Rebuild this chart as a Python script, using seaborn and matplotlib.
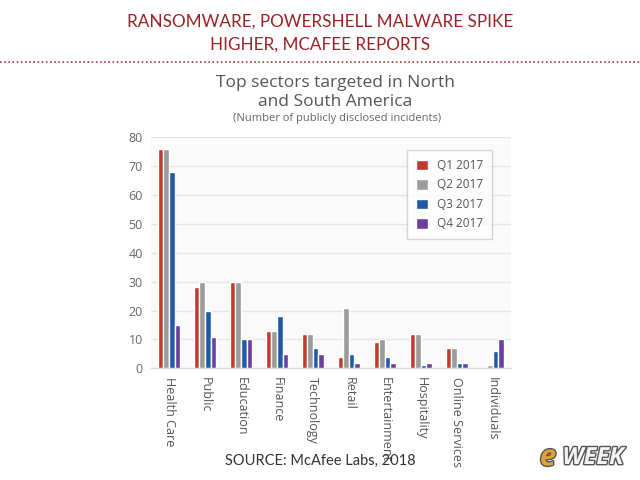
import pandas as pd
import matplotlib.pyplot as plt
import matplotlib.patheffects as pe
import seaborn as sns
from matplotlib.lines import Line2D

# values
sectors = ["Health Care", "Public", "Education", "Finance", "Technology",
           "Retail", "Entertainment", "Hospitality", "Online Services", "Individuals"]
quarters = ["Q1 2017", "Q2 2017", "Q3 2017", "Q4 2017"]
q1 = [76, 28, 30, 13, 12, 4, 9, 12, 7, 0]
q2 = [76, 30, 30, 13, 12, 21, 10, 12, 7, 1]
q3 = [68, 20, 10, 18, 7, 5, 4, 1, 2, 6]
q4 = [15, 11, 10, 5, 5, 2, 2, 2, 2, 10]
yticks = [0, 10, 20, 30, 40, 50, 60, 70, 80]
colors = ["#c0392b", "#9b9b9b", "#1f5ba6", "#6b3fa0"]

rows = []
for q, vals in zip(quarters, [q1, q2, q3, q4]):
    for s, v in zip(sectors, vals):
        rows.append({"sector": s, "quarter": q, "incidents": v})
df = pd.DataFrame(rows)

sns.set_style("white")
plt.rcParams["font.family"] = ["Open Sans", "DejaVu Sans"]

fig = plt.figure(figsize=(6.4, 4.8), dpi=100)
fig.patch.set_facecolor("white")
ax = fig.add_axes([0.236, 0.2327, 0.562, 0.4813])
ax.set_facecolor("#fafafa")

sns.barplot(data=df, x="sector", y="incidents", hue="quarter", order=sectors,
            hue_order=quarters, palette=colors, width=0.62, gap=0,
            saturation=1, ax=ax)

ax.set_ylim(0, 80)
ax.set_xlim(-0.5, len(sectors) - 0.5)
ax.set_yticks(yticks)
ax.yaxis.grid(True, color="#e4e4e4", linewidth=1)
ax.set_axisbelow(True)
for side in ["top", "right", "left"]:
    ax.spines[side].set_visible(False)
ax.spines["bottom"].set_color("#d8d8d8")
ax.tick_params(axis="y", length=0, pad=6, labelsize=9, labelcolor="#666666")
ax.tick_params(axis="x", length=0, pad=6, labelsize=9, labelcolor="#555555")
plt.setp(ax.get_xticklabels(), rotation=-90, va="top", ha="center")
ax.set_xlabel("")
ax.set_ylabel("")

leg = ax.legend(loc="upper left", bbox_to_anchor=(407 / 640, 1 - 150 / 480),
                bbox_transform=fig.transFigure, frameon=True, fontsize=8.5,
                handlelength=1.0, handleheight=1.0, handletextpad=0.8,
                labelspacing=0.55, borderpad=0.75, borderaxespad=0, fancybox=False)
leg.get_frame().set_edgecolor("#cccccc")
leg.get_frame().set_facecolor("white")
for t in leg.get_texts():
    t.set_color("#555555")

# slide heading
fig.text(0.5, 1 - 22 / 480, "RANSOMWARE, POWERSHELL MALWARE SPIKE", ha="center",
         va="center", fontsize=12.3, color="#9b2226", family=["Lato", "DejaVu Sans"])
fig.text(0.5, 1 - 45 / 480, "HIGHER, MCAFEE REPORTS", ha="center",
         va="center", fontsize=12.3, color="#9b2226", family=["Lato", "DejaVu Sans"])
fig.add_artist(Line2D([0, 1], [1 - 62 / 480, 1 - 62 / 480], transform=fig.transFigure,
                      color="#b03a3a", linestyle=(0, (1, 1.5)), linewidth=1.2))

# chart title
fig.text(335 / 640, 1 - 83 / 480, "Top sectors targeted in North", ha="center",
         va="center", fontsize=12.5, color="#555555")
fig.text(335 / 640, 1 - 102 / 480, "and South America", ha="center",
         va="center", fontsize=12.5, color="#555555")
fig.text(337 / 640, 1 - 119 / 480, "(Number of publicly disclosed incidents)",
         ha="center", va="center", fontsize=8, color="#666666")

fig.text(0.5, 1 - 461 / 480, "SOURCE: McAfee Labs, 2018", ha="center", va="center",
         fontsize=10.5, color="#333333", family=["Lato", "DejaVu Sans"])

# logo
outline = [pe.withStroke(linewidth=2, foreground="#555555")]
fig.text(548 / 640, 1 - 458 / 480, "e", ha="center", va="center", fontsize=21,
         fontweight="bold", style="italic", color="#e3a135", path_effects=outline)
fig.text(593 / 640, 1 - 458 / 480, "WEEK", ha="center", va="center", fontsize=17,
         fontweight="bold", style="italic", color="#f4f4f4", path_effects=outline)

plt.savefig("out.png", dpi=100)
